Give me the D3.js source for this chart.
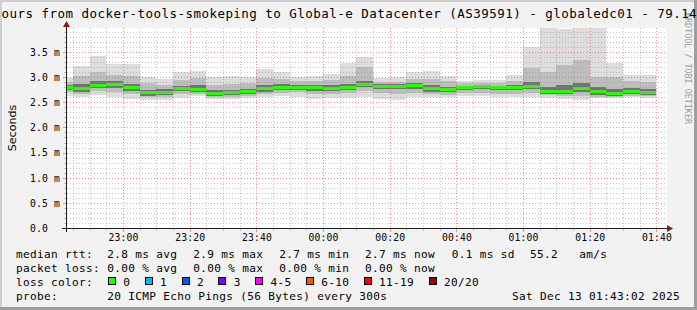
<!DOCTYPE html>
<html>
<head>
<meta charset="utf-8">
<script src="https://cdn.jsdelivr.net/npm/d3@7"></script>
<style>
    body { margin: 0; background: #f2f2f2; }
    svg { display: block; }
    text { font-family: "DejaVu Sans Mono", monospace; fill: #000; }
</style>
</head>
<body>
<svg id="chart"></svg>
<script>
// 5 minute bins (end time of each step), the first one is only partly visible
const binEnds = ["22:45", "22:50", "22:55", "23:00", "23:05", "23:10", "23:15", "23:20", "23:25",
    "23:30", "23:35", "23:40", "23:45", "23:50", "23:55", "00:00", "00:05", "00:10", "00:15",
    "00:20", "00:25", "00:30", "00:35", "00:40", "00:45", "00:50", "00:55", "01:00", "01:05",
    "01:10", "01:15", "01:20", "01:25", "01:30", "01:35", "01:40"];

// ms
const medianRtt = [2.79, 2.77, 2.83, 2.85, 2.79, 2.69, 2.70, 2.77, 2.75, 2.68, 2.70, 2.71, 2.77, 2.80, 2.80, 2.79, 2.78, 2.80,
    2.86, 2.82, 2.82, 2.83, 2.77, 2.75, 2.79, 2.81, 2.79, 2.79, 2.81, 2.72, 2.72, 2.77, 2.71, 2.67, 2.71, 2.70];
const pingMax = [2.99, 3.23, 3.43, 3.27, 3.27, 3.01, 2.96, 3.11, 3.13, 3.01, 3.03, 3.01, 3.17, 3.11, 3.00, 3.03, 3.07, 3.28,
    3.40, 2.98, 3.00, 3.10, 3.13, 3.03, 2.93, 2.95, 2.95, 3.05, 3.59, 4.05, 3.96, 4.05, 4.05, 3.29, 3.05, 3.05];
const pingHigh = [2.90, 3.03, 3.11, 3.05, 3.02, 2.88, 2.85, 2.95, 2.98, 2.85, 2.86, 2.88, 2.98, 2.96, 2.92, 2.92, 2.95, 3.02,
    3.21, 2.90, 2.90, 2.96, 2.97, 2.92, 2.88, 2.89, 2.88, 2.92, 3.19, 3.11, 3.25, 3.35, 3.00, 3.00, 2.92, 2.90];
const pingCoreHi = [2.84, 2.86, 2.92, 2.92, 2.86, 2.75, 2.76, 2.83, 2.84, 2.75, 2.75, 2.76, 2.84, 2.87, 2.85, 2.84, 2.84, 2.86,
    2.93, 2.86, 2.86, 2.88, 2.84, 2.80, 2.83, 2.85, 2.83, 2.84, 2.90, 2.80, 2.84, 2.88, 2.80, 2.76, 2.78, 2.77];
const pingCoreLo = [2.74, 2.70, 2.78, 2.78, 2.72, 2.63, 2.64, 2.72, 2.70, 2.63, 2.65, 2.66, 2.71, 2.74, 2.75, 2.73, 2.72, 2.74,
    2.80, 2.76, 2.76, 2.77, 2.71, 2.70, 2.74, 2.76, 2.74, 2.74, 2.76, 2.67, 2.66, 2.70, 2.65, 2.63, 2.66, 2.65];
const pingLow = [2.70, 2.66, 2.72, 2.70, 2.66, 2.60, 2.60, 2.66, 2.66, 2.60, 2.61, 2.62, 2.66, 2.69, 2.70, 2.67, 2.67, 2.68,
    2.72, 2.68, 2.66, 2.68, 2.66, 2.65, 2.68, 2.68, 2.67, 2.67, 2.69, 2.64, 2.62, 2.62, 2.61, 2.61, 2.62, 2.62];
const pingMin = [2.62, 2.60, 2.65, 2.60, 2.56, 2.55, 2.55, 2.58, 2.62, 2.56, 2.56, 2.58, 2.60, 2.62, 2.60, 2.56, 2.58, 2.58,
    2.60, 2.56, 2.55, 2.60, 2.60, 2.60, 2.62, 2.62, 2.60, 2.60, 2.60, 2.58, 2.56, 2.55, 2.58, 2.58, 2.60, 2.58];

const yTicks = [0, 0.5, 1.0, 1.5, 2.0, 2.5, 3.0, 3.5];

const lossLabels = ["0", "1", "2", "3", "4-5", "6-10", "11-19", "20/20"];
const lossColors = ["#26ff00", "#00b8ff", "#0059ff", "#7e00ff", "#ff00ff", "#ff5500", "#ff0000", "#a10000"];

const statsRtt = ["2.8 ms avg", "2.9 ms max", "2.7 ms min", "2.7 ms now", "0.1 ms sd", "55.2", "am/s"];
const statsLoss = ["0.00 % avg", "0.00 % max", "0.00 % min", "0.00 % now"];

const titleText = "ours from docker-tools-smokeping to Global-e Datacenter (AS39591) - globaledc01 - 79.14";
const probeText = "20 ICMP Echo Pings (56 Bytes) every 300s";
const stampText = "Sat Dec 13 01:43:02 2025";

// Layout
const W = 697, H = 310;
const plot = { left: 67, right: 667, top: 28, bottom: 228 };

const svg = d3.select("#chart").attr("width", W).attr("height", H);

const toDate = s => {
    const [h, m] = s.split(":").map(Number);
    return new Date(2025, 11, h >= 12 ? 12 : 13, h, m, 0);
};
const tStart = new Date(2025, 11, 12, 22, 43, 2);
const tEnd = new Date(2025, 11, 13, 1, 43, 2);

const x = d3.scaleTime().domain([tStart, tEnd]).range([plot.left - 0.5, plot.right - 0.5]);
const y = d3.scaleLinear().domain([0, 3.977]).range([plot.bottom, plot.top]);

// background + shading
svg.append("rect").attr("width", W).attr("height", H).attr("fill", "#f2f2f2");
svg.append("path").attr("d", `M0,0H${W}V2H2V${H}H0Z`).attr("fill", "#cfcfcf");
svg.append("path").attr("d", `M${W},${H}H0V${H - 3}H${W - 3}V0H${W}Z`).attr("fill", "#9e9e9e");

svg.append("rect")
    .attr("x", plot.left).attr("y", plot.top)
    .attr("width", plot.right - plot.left).attr("height", plot.bottom - plot.top)
    .attr("fill", "#ffffff");

svg.append("clipPath").attr("id", "plotClip")
    .append("rect")
    .attr("x", plot.left).attr("y", plot.top)
    .attr("width", plot.right - plot.left).attr("height", plot.bottom - plot.top);

const bins = binEnds.map((s, i) => {
    const end = toDate(s);
    return { start: new Date(+end - 5 * 60 * 1000), end: end, i: i };
});

const g = svg.append("g").attr("clip-path", "url(#plotClip)").attr("shape-rendering", "crispEdges");

// smoke layers, outermost first
const layers = [
    { lo: pingMin, hi: pingMax, color: "#dddddd" },
    { lo: pingLow, hi: pingHigh, color: "#bdbdbd" },
    { lo: pingCoreLo, hi: pingCoreHi, color: "#727272" }
];

layers.forEach(layer => {
    g.append("g").selectAll("rect")
        .data(bins)
        .join("rect")
            .attr("x", d => x(d.start))
            .attr("width", d => x(d.end) - x(d.start))
            .attr("y", d => y(layer.hi[d.i]))
            .attr("height", d => y(layer.lo[d.i]) - y(layer.hi[d.i]))
            .attr("fill", layer.color);
});

// median rtt, colored by loss (all 0 here)
g.append("g").selectAll("rect")
    .data(bins)
    .join("rect")
        .attr("x", d => x(d.start))
        .attr("width", d => x(d.end) - x(d.start))
        .attr("y", d => y(medianRtt[d.i]) - 1.5)
        .attr("height", 3)
        .attr("fill", lossColors[0]);

// grid
const minorColor = "rgba(143,143,143,0.5)";
const majorColor = "rgba(222,79,79,0.6)";
const grid = svg.append("g").attr("shape-rendering", "crispEdges");

const yMinor = d3.range(1, 40).map(i => i / 10).filter(v => Math.round(v * 10) % 5 !== 0);
const yMajor = yTicks.filter(v => v > 0);
const px = v => Math.round(v) + 0.5;

grid.selectAll(".ymin").data(yMinor).join("line")
    .attr("x1", plot.left).attr("x2", plot.right)
    .attr("y1", d => px(y(d))).attr("y2", d => px(y(d)))
    .attr("stroke", minorColor).attr("stroke-dasharray", "1,2");
grid.selectAll(".ymaj").data(yMajor).join("line")
    .attr("x1", plot.left).attr("x2", plot.right)
    .attr("y1", d => px(y(d))).attr("y2", d => px(y(d)))
    .attr("stroke", majorColor).attr("stroke-dasharray", "1,2");

const xAll = d3.timeMinute.every(5).range(tStart, tEnd);
const xMajor = xAll.filter(d => d.getMinutes() % 20 === 0);
const xMinor = xAll.filter(d => d.getMinutes() % 20 !== 0);

grid.selectAll(".xmin").data(xMinor).join("line")
    .attr("y1", plot.top).attr("y2", plot.bottom)
    .attr("x1", d => px(x(d))).attr("x2", d => px(x(d)))
    .attr("stroke", minorColor).attr("stroke-dasharray", "1,2");
grid.selectAll(".xmaj").data(xMajor).join("line")
    .attr("y1", plot.top).attr("y2", plot.bottom)
    .attr("x1", d => px(x(d))).attr("x2", d => px(x(d)))
    .attr("stroke", majorColor).attr("stroke-dasharray", "1,2");

// little tick marks outside the axes
grid.selectAll(".ytk").data(yMinor.concat(yMajor)).join("line")
    .attr("x1", d => yMajor.includes(d) ? 63 : 64).attr("x2", 66)
    .attr("y1", d => px(y(d))).attr("y2", d => px(y(d)))
    .attr("stroke", d => yMajor.includes(d) ? majorColor : minorColor);
grid.selectAll(".xtk").data(xAll).join("line")
    .attr("y1", 229).attr("y2", d => d.getMinutes() % 20 === 0 ? 232 : 231)
    .attr("x1", d => px(x(d))).attr("x2", d => px(x(d)))
    .attr("stroke", d => d.getMinutes() % 20 === 0 ? majorColor : minorColor);

// axes lines and arrows
const axisColor = "#1f1f1f", arrowColor = "#801f1f";
svg.append("line").attr("x1", 62).attr("x2", 670).attr("y1", 228.5).attr("y2", 228.5)
    .attr("stroke", axisColor).attr("shape-rendering", "crispEdges");
svg.append("line").attr("x1", 66.5).attr("x2", 66.5).attr("y1", 232).attr("y2", 25)
    .attr("stroke", axisColor).attr("shape-rendering", "crispEdges");
svg.append("path").attr("d", "M667,225L673,228.5L667,232Z").attr("fill", arrowColor);
svg.append("path").attr("d", "M63,27L66.5,21L70,27Z").attr("fill", arrowColor);

// tick labels
const xAxis = d3.axisBottom(x)
    .ticks(d3.timeMinute.every(20))
    .tickFormat(d3.timeFormat("%H:%M"))
    .tickSize(0);
const xg = svg.append("g").attr("transform", `translate(0,${plot.bottom})`).call(xAxis);
xg.select(".domain").remove();
xg.selectAll("text")
    .attr("y", 13).attr("dy", 0)
    .attr("font-family", "DejaVu Sans Mono")
    .attr("font-size", "9.72px")
    .style("letter-spacing", "0.15px")
    .attr("fill", "#000");

const yAxis = d3.axisLeft(y)
    .tickValues(yTicks)
    .tickFormat(v => v === 0 ? "0.0" : d3.format(".1f")(v) + " m")
    .tickSize(0);
const yg = svg.append("g").attr("transform", `translate(${plot.left - 0.5},0)`).call(yAxis);
yg.select(".domain").remove();
yg.selectAll("text")
    .attr("text-anchor", "start")
    .attr("x", 30 - (plot.left - 0.5))
    .attr("dy", "0.35em")
    .attr("font-family", "DejaVu Sans Mono")
    .attr("font-size", "9.72px")
    .style("letter-spacing", "0.15px")
    .attr("fill", "#000");

// watermark (drawn first, the title runs over its top)
svg.append("text")
    .attr("transform", "translate(684.5,13) rotate(90)")
    .attr("font-size", "8.3px")
    .style("letter-spacing", "0.05px")
    .style("fill", "#9c9c9c")
    .text("RRDTOOL / TOBI OETIKER");

// title
svg.append("text")
    .attr("x", 1.5).attr("y", 18)
    .attr("font-size", "12.5px")
    .style("letter-spacing", "0.47px")
    .style("white-space", "pre")
    .text(titleText);

// unit label
svg.append("text")
    .attr("transform", "translate(15.5,128) rotate(-90)")
    .attr("text-anchor", "middle")
    .style("font-family", "'DejaVu Sans', sans-serif")
    .attr("font-size", "11.1px")
    .text("Seconds");

// legend
const legend = svg.append("g")
    .attr("font-size", "11.1px")
    .style("letter-spacing", "0.32px")
    .style("white-space", "pre");

const rowY = [258, 272, 286, 300];
const rttX = [107.3, 193.3, 279.3, 365, 451.7, 530, 579.3];

legend.append("text").attr("x", 16).attr("y", rowY[0]).text("median rtt:");
legend.selectAll(".rtt").data(statsRtt).join("text")
    .attr("x", (d, i) => rttX[i]).attr("y", rowY[0]).text(d => d);

legend.append("text").attr("x", 16).attr("y", rowY[1]).text("packet loss:");
legend.selectAll(".loss").data(statsLoss).join("text")
    .attr("x", (d, i) => rttX[i]).attr("y", rowY[1]).text(d => d);

legend.append("text").attr("x", 16).attr("y", rowY[2]).text("loss color:");
let lx = 108.5;
lossLabels.forEach((lab, i) => {
    legend.append("rect")
        .attr("x", lx).attr("y", rowY[2] - 8.5)
        .attr("width", 7).attr("height", 7)
        .attr("fill", lossColors[i])
        .attr("stroke", "#000").attr("stroke-width", 1)
        .attr("shape-rendering", "crispEdges");
    const t = legend.append("text").attr("x", lx + 14.8).attr("y", rowY[2]).text(lab);
    lx = lx + 14.8 + t.node().getComputedTextLength() + 15;
});

legend.append("text").attr("x", 16).attr("y", rowY[3]).text("probe:");
legend.append("text").attr("x", 107.3).attr("y", rowY[3]).text(probeText);
legend.append("text").attr("x", 680).attr("y", rowY[3]).attr("text-anchor", "end").text(stampText);
</script>
</body>
</html>
